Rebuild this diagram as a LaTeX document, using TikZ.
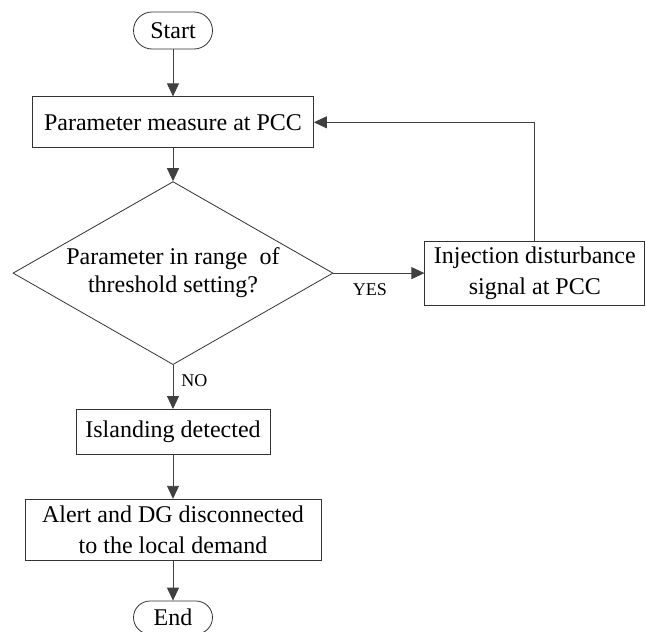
\documentclass[tikz,border=0pt]{standalone}
\usepackage{fontspec}
\setmainfont{Liberation Serif}
\usetikzlibrary{shapes.geometric,shapes.misc,arrows.meta,positioning}
\tikzset{
  % Start / End terminal: rounded ends
  terminal/.style={draw=black!80, rounded rectangle, minimum width=79pt, minimum height=37pt,
                   inner sep=0pt, line width=0.8pt, font=\fontsize{24}{31}\selectfont},
  % Process box
  procbox/.style={draw=black!80, rectangle, align=center, inner sep=0pt, line width=0.8pt,
                  font=\fontsize{24}{31}\selectfont},
  % Decision diamond
  decision/.style={draw=black!80, diamond, aspect=1.75, minimum width=320pt, minimum height=183pt,
                   inner sep=0pt, align=center, line width=0.8pt, font=\fontsize{24}{28}\selectfont},
  % Arrows
  flowarr/.style={-{Triangle[length=13pt,width=12pt]}, draw=black!75, line width=0.9pt},
  % Branch labels (YES / NO)
  branchlbl/.style={font=\fontsize{18}{20}\selectfont, inner sep=2pt}
}

\begin{document}
\begin{tikzpicture}
\useasboundingbox (0,0) rectangle (646pt,-632pt);

% Main column
\node[terminal] at (173pt,-30.5pt) (start) {Start};
\node[procbox, below=47pt of start, minimum width=281pt, minimum height=51pt] (meas)
  {Parameter measure at PCC};
\node[decision, below=33pt of meas] (check)
  {Parameter in range~ of\\threshold setting?};
\node[procbox, below=44pt of check, minimum width=194pt, minimum height=45pt] (island)
  {Islanding detected};
\node[procbox, below=44pt of island, minimum width=296pt, minimum height=61pt] (alert)
  {Alert and DG disconnected\\to the local demand};
\node[terminal, below=40pt of alert, minimum height=33pt] (end) {End};

% Disturbance injection branch
\node[procbox, right=91pt of check, minimum width=220pt, minimum height=64pt] (inject)
  {Injection disturbance\\signal at PCC};

% Connectors
\draw[flowarr] (start.south) -- (meas.north);
\draw[flowarr] (meas.south) -- (check.north);
\draw[flowarr] (check.south) -- node[branchlbl, right, pos=0.36, xshift=6pt] (no) {NO} (island.north);
\draw[flowarr] (island.south) -- (alert.north);
\draw[flowarr] (alert.south) -- (end.north);
\draw[flowarr] (check.east) -- node[branchlbl, below, pos=0.4, yshift=-8pt] (yes) {YES} (inject.west);
\draw[flowarr] (inject.north) |- (meas.east);

\end{tikzpicture}
\end{document}
